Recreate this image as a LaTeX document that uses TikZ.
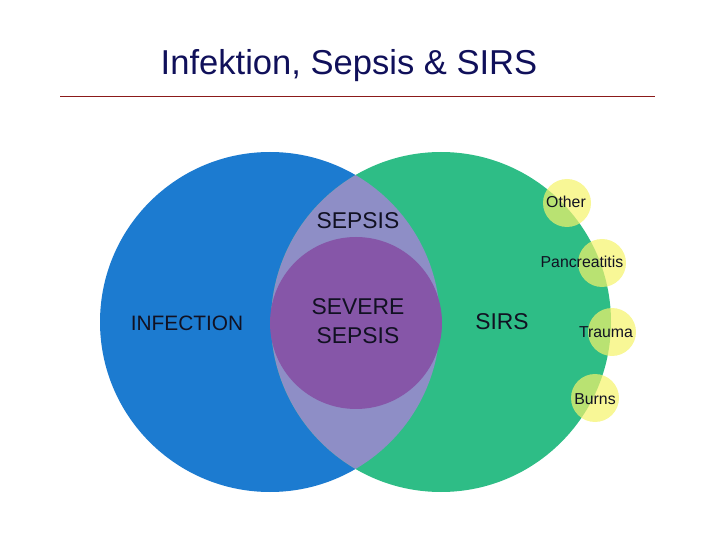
\documentclass[tikz,border=0pt]{standalone}
\usepackage{fontspec}
\setmainfont{Liberation Sans}
\definecolor{infblue}{HTML}{1C7BD0}
\definecolor{sirsgreen}{HTML}{2EBD86}
\definecolor{lensgray}{HTML}{8E8EC6}
\definecolor{sevpurple}{HTML}{8656A8}
\definecolor{causeyellow}{HTML}{F5F36A}
\definecolor{titlenavy}{HTML}{10105A}
\definecolor{rulered}{HTML}{8B1A1A}
\definecolor{inkdark}{HTML}{111122}
\begin{document}
\begin{tikzpicture}[x=0.03cm,y=-0.03cm,
  lbl/.style={inner sep=0pt,text=inkdark,align=center,font=\fontsize{19.5}{24.7}\selectfont},
  cause/.style={inner sep=0pt,text=inkdark,font=\fontsize{13.5}{15}\selectfont}]
  \useasboundingbox (0,0) rectangle (720,540);
  % title and rule
  \node[anchor=base,inner sep=0pt,text=titlenavy,font=\fontsize{29.5}{32}\selectfont]
    (title) at (349,75) {Infektion, Sepsis \& SIRS};
  \draw[rulered,line width=0.6pt] (60,96) -- (655,96);
  % venn circles
  \fill[infblue] (270,322) circle (170);
  \fill[sirsgreen] (441,322) circle (170);
  \begin{scope}
    \clip (270,322) circle (170);
    \fill[lensgray] (441,322) circle (170);
  \end{scope}
  \fill[sevpurple] (356,323) circle (86);
  % causes of SIRS
  \foreach \cx/\cy in {567/203, 602/263, 612/332, 595/398}
    \fill[causeyellow,opacity=0.7] (\cx,\cy) circle (24);
  \node[lbl,font=\fontsize{17.8}{20}\selectfont] (infection) at (187,323) {INFECTION};
  \node[lbl] (sepsis) at (358,221) {SEPSIS};
  \node[lbl] (severe) at (358,321) {SEVERE\\SEPSIS};
  \node[lbl] (sirs) at (502,322) {SIRS};
  \node[cause] (other) at (566,202) {Other};
  \node[cause] (pancreatitis) at (582,262) {Pancreatitis};
  \node[cause] (trauma) at (606,332) {Trauma};
  \node[cause] (burns) at (595,399) {Burns};
\end{tikzpicture}
\end{document}
